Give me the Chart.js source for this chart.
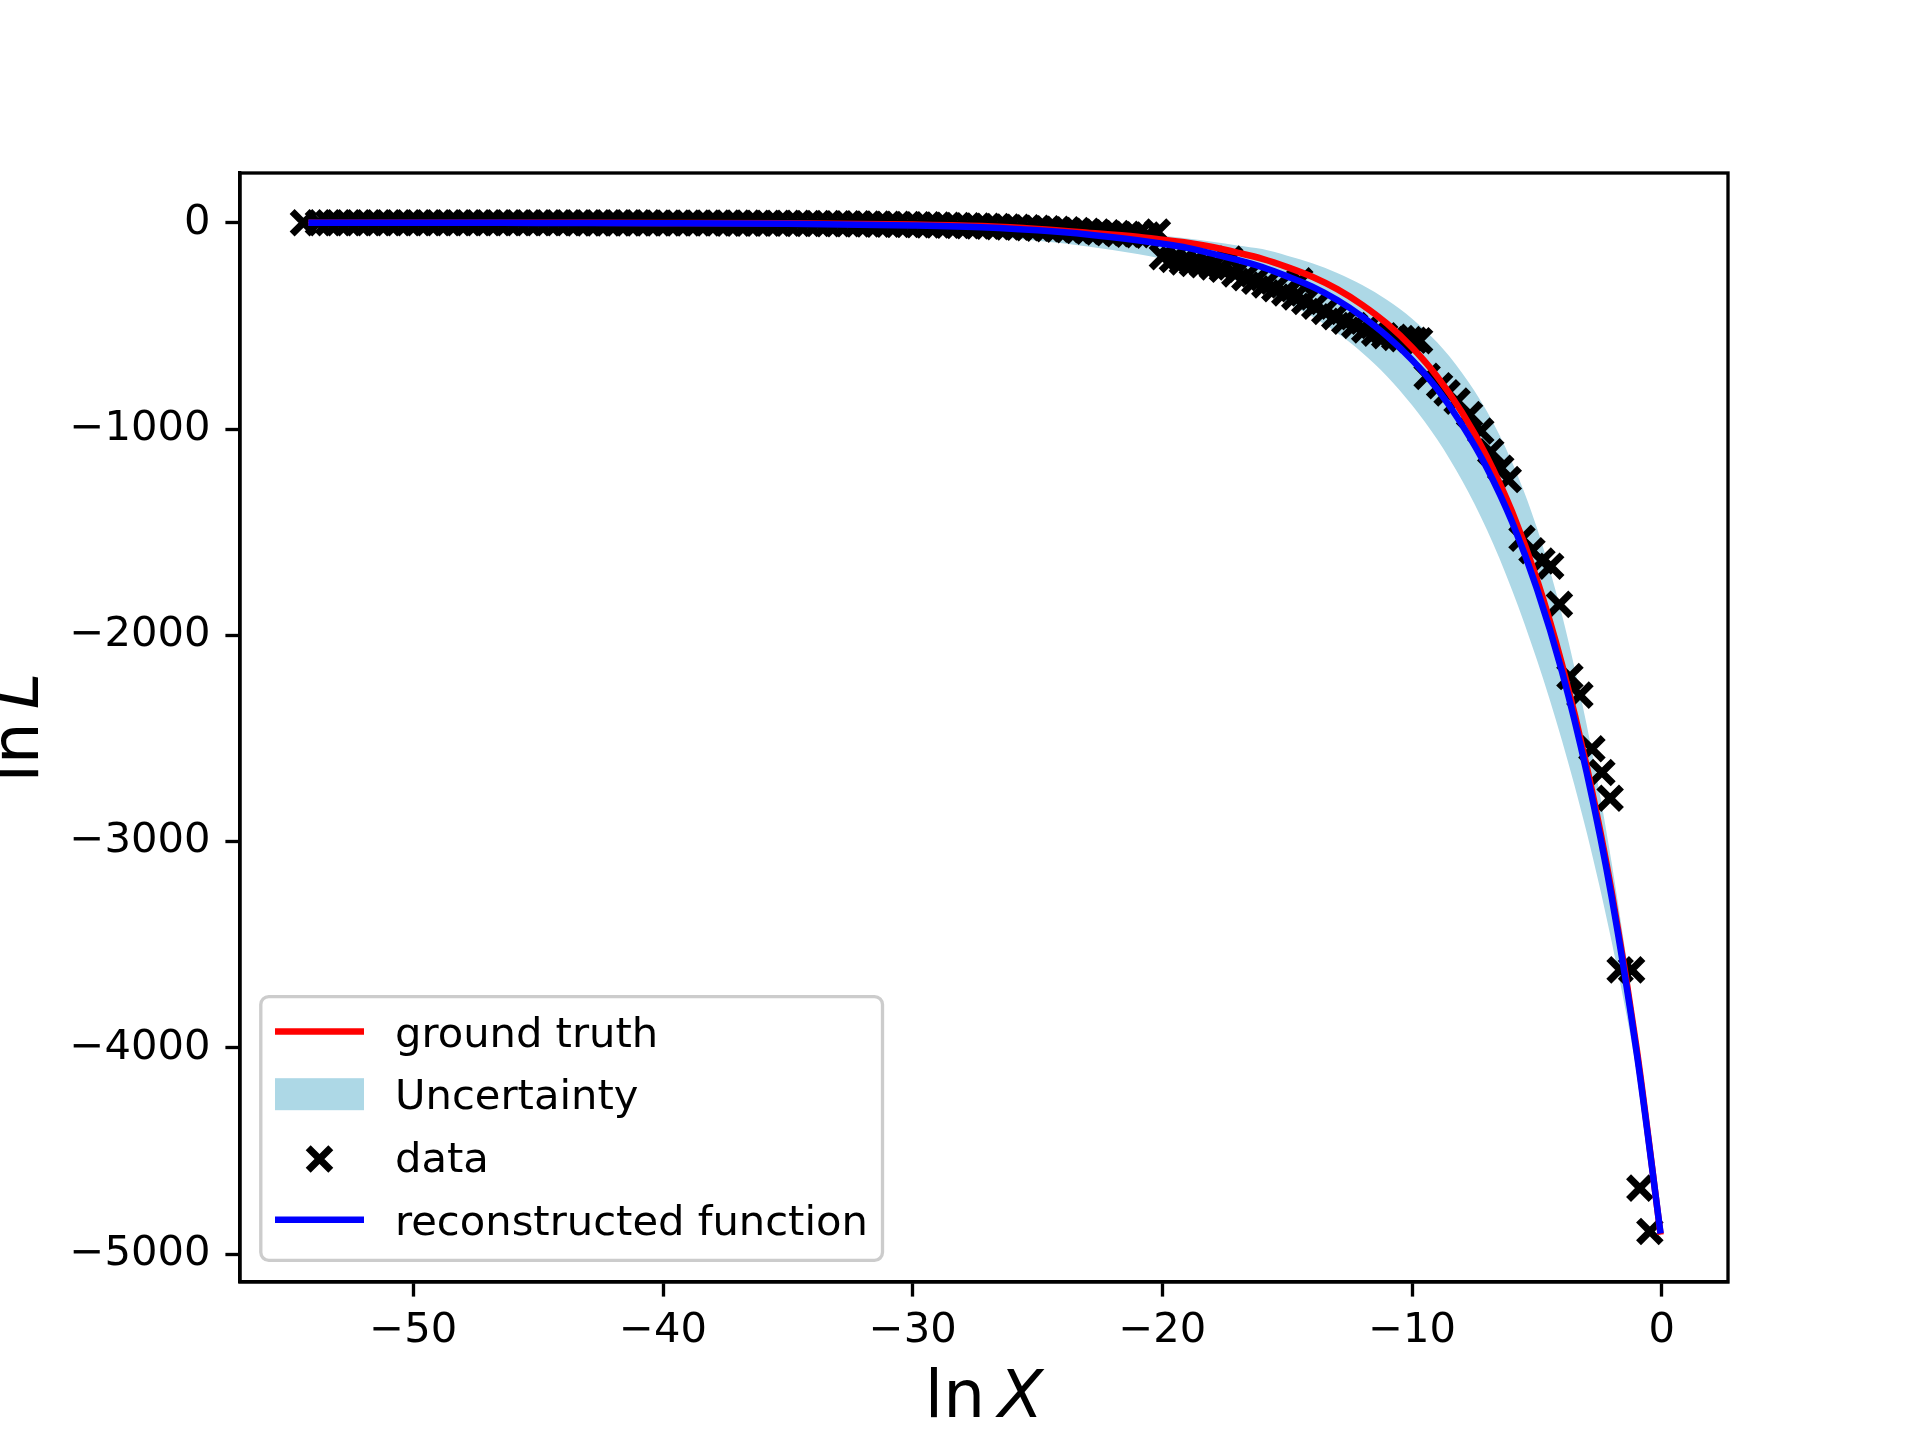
<!DOCTYPE html>
<html><head><meta charset="utf-8">
<script src="https://cdn.jsdelivr.net/npm/chart.js@4/dist/chart.umd.min.js"></script>
<style>html,body{margin:0;padding:0;background:#fff}</style>
</head><body>
<canvas id="c" width="1920" height="1440" style="width:1920px;height:1440px;display:block"></canvas>
<script>
// ---- data ----
const curveX = [-54.2, -50, -45, -40, -35, -30, -27, -25, -23, -21, -20, -19, -18, -17, -16, -15, -14, -13, -12, -11, -10, -9, -8, -7, -6, -5, -4, -3, -2, -1, -0.05];
const truthY = [0, -0.1, -0.4, -1, -3, -9, -17, -30, -48, -68, -82, -97, -118, -145, -175, -215, -262, -322, -398, -490, -605, -745, -920, -1135, -1400, -1730, -2140, -2640, -3250, -4010, -4905];
const reconY = [0, -0.3, -1, -2, -5, -13, -23, -37, -57, -85, -102, -122, -150, -180, -215, -260, -310, -375, -455, -550, -665, -805, -980, -1190, -1450, -1775, -2175, -2670, -3275, -4030, -4900];
const bandUpperY = [0, 0, -0.1, -0.3, -1, -3.5, -8, -15, -27, -52, -63, -76, -92, -110, -128, -160, -197, -244, -302, -375, -465, -580, -728, -915, -1160, -1480, -1900, -2440, -3110, -3935, -4885];
const bandLowerY = [0, -1, -3, -6, -16, -40, -65, -88, -115, -152, -175, -205, -240, -280, -330, -388, -455, -535, -630, -745, -885, -1050, -1250, -1490, -1780, -2120, -2510, -2960, -3490, -4120, -4925];

const dataX = [-54.4,
 -53.8, -53.4, -53.0, -52.6, -52.2, -51.8, -51.4, -51.0, -50.6, -50.2,
 -49.8, -49.4, -49.0, -48.6, -48.2, -47.8, -47.4, -47.0, -46.6, -46.2,
 -45.8, -45.4, -45.0, -44.6, -44.2, -43.8, -43.4, -43.0, -42.6, -42.2,
 -41.8, -41.4, -41.0, -40.6, -40.2, -39.8, -39.4, -39.0, -38.6, -38.2,
 -37.8, -37.4, -37.0, -36.6, -36.2, -35.8, -35.4, -35.0, -34.6, -34.2,
 -33.8, -33.4, -33.0, -32.6, -32.2, -31.8, -31.4, -31.0, -30.6, -30.2,
 -29.8, -29.4, -29.0, -28.6, -28.2, -27.8, -27.4, -27.0, -26.6, -26.2,
 -25.8, -25.4, -25.0, -24.6, -24.2, -23.8, -23.4, -23.0, -22.6, -22.2,
 -21.8, -21.4, -21.0, -20.6, -20.2,
 -20.0, -19.6, -19.2, -18.8, -18.4, -18.0, -17.6, -17.3, -17.1, -16.7,
 -16.3, -15.9, -15.5, -15.1, -14.7, -14.5, -14.3, -13.9, -13.5, -13.1,
 -12.7, -12.3, -11.9, -11.5, -11.1, -10.7, -10.4, -10.1, -9.9, -9.7,
 -9.4, -8.9, -8.6, -8.2, -7.7, -7.25, -6.85, -6.45, -6.15, -5.6,
 -5.2, -4.8, -4.45, -4.1, -3.68, -3.28, -2.8, -2.4, -2.07, -1.67,
 -1.21, -0.88, -0.48];
const dataY = [0,
 0, 0, 0, 0, 0, 0, 0, 0, 0, 0,
 0, 0, 0, 0, 0, 0, 0, -0.1, -0.2, -0.2,
 -0.3, -0.4, -0.4, -0.4, -0.5, -0.5, -0.6, -0.6, -0.6, -0.7,
 -0.7, -0.8, -0.9, -0.9, -1.0, -1.1, -1.2, -1.3, -1.4, -1.5,
 -1.6, -1.8, -1.9, -2.1, -2.3, -2.5, -2.7, -3.0, -3.3, -3.6,
 -3.9, -4.3, -4.7, -5.1, -5.6, -6.1, -6.7, -7.3, -8.0, -8.7,
 -9.5, -10.4, -11.3, -12.3, -13.4, -14.6, -15.9, -17.3, -18.9, -20.6,
 -22.4, -24.4, -26.6, -29, -31.6, -34.5, -37.6, -41, -44.7, -48.7,
 -53, -56, -58, -60, -45,
 -165, -178, -190, -198, -204, -214, -226, -176, -248, -266,
 -284, -302, -320, -340, -360, -282, -382, -405, -430, -456,
 -478, -498, -520, -536, -548, -556, -562, -566, -570, -572,
 -745, -790, -825, -865, -930, -1010, -1110, -1190, -1245, -1530,
 -1590, -1640, -1665, -1850, -2200, -2290, -2550, -2665, -2790, -3622,
 -3622, -4680, -4890];

const xTicks = [-50, -40, -30, -20, -10, 0];
const yTicks = [0, -1000, -2000, -3000, -4000, -5000];
const legendLabels = ['ground truth', 'Uncertainty', 'data', 'reconstructed function'];

// ---- helpers ----
const pts = (xs, ys) => xs.map((x, i) => ({x: x, y: ys[i]}));
const fmt = v => (v < 0 ? '\u2212' + Math.abs(v) : String(v));
const FONT = '"DejaVu Sans", sans-serif';
const LW = 3.33;       // 0.8pt at 300 dpi
const TICK = 14.6;     // 3.5pt
const CA = {left: 240, right: 1728, top: 173, bottom: 1282};

const framePlugin = {
  id: 'frame',
  afterDraw(chart) {
    const ctx = chart.ctx, a = chart.chartArea;
    ctx.save();
    ctx.strokeStyle = '#000';
    ctx.lineWidth = LW;
    ctx.strokeRect(a.left, a.top, a.right - a.left, a.bottom - a.top);
    // legend
    const fx = 260.8, fy = 996.6, fw = 882.5 - 260.8, fh = 1260.3 - 996.6, r = 8;
    ctx.beginPath();
    ctx.moveTo(fx + r, fy);
    ctx.arcTo(fx + fw, fy, fx + fw, fy + fh, r);
    ctx.arcTo(fx + fw, fy + fh, fx, fy + fh, r);
    ctx.arcTo(fx, fy + fh, fx, fy, r);
    ctx.arcTo(fx, fy, fx + fw, fy, r);
    ctx.closePath();
    ctx.fillStyle = 'rgba(255,255,255,0.8)';
    ctx.fill();
    ctx.strokeStyle = '#cccccc';
    ctx.lineWidth = LW;
    ctx.stroke();
    const hx0 = 275, hx1 = 364, tx = 395;
    const base = [1046.5, 1109.2, 1172, 1234.7];
    const cen = [1031.5, 1094.2, 1159, 1219.7];
    // ground truth
    ctx.strokeStyle = '#ff0000'; ctx.lineWidth = 6.5;
    ctx.beginPath(); ctx.moveTo(hx0, cen[0]); ctx.lineTo(hx1, cen[0]); ctx.stroke();
    // uncertainty
    ctx.fillStyle = '#add8e6';
    ctx.fillRect(hx0, cen[1] - 16, hx1 - hx0, 32);
    // data marker
    const mx = (hx0 + hx1) / 2, d = 11.3;
    ctx.strokeStyle = '#000'; ctx.lineWidth = 7;
    ctx.beginPath();
    ctx.moveTo(mx - d, cen[2] - d); ctx.lineTo(mx + d, cen[2] + d);
    ctx.moveTo(mx - d, cen[2] + d); ctx.lineTo(mx + d, cen[2] - d);
    ctx.stroke();
    // reconstructed
    ctx.strokeStyle = '#0000ff'; ctx.lineWidth = 6.5;
    ctx.beginPath(); ctx.moveTo(hx0, cen[3]); ctx.lineTo(hx1, cen[3]); ctx.stroke();
    ctx.fillStyle = '#000';
    ctx.font = '41.67px ' + FONT;
    ctx.textBaseline = 'alphabetic';
    ctx.textAlign = 'left';
    legendLabels.forEach((t, i) => ctx.fillText(t, tx, base[i]));
    // axis labels (mathtext style: upright "ln", italic variable)
    const drawLabel = (v, cx, by) => {
      ctx.font = '66px ' + FONT;
      const w1 = ctx.measureText('ln').width;
      ctx.font = 'italic 66px ' + FONT;
      const w2 = ctx.measureText(v).width;
      const gap = 13;
      const x0 = cx - (w1 + gap + w2) / 2;
      ctx.font = '66px ' + FONT;
      ctx.fillText('ln', x0, by);
      ctx.font = 'italic 66px ' + FONT;
      ctx.fillText(v, x0 + w1 + gap, by);
    };
    drawLabel('X', (a.left + a.right) / 2, 1417);
    ctx.save();
    ctx.translate(38, (a.top + a.bottom) / 2);
    ctx.rotate(-Math.PI / 2);
    drawLabel('L', 0, 0);
    ctx.restore();
    ctx.restore();
  }
};

const axisCommon = {
  grid: {display: true, drawOnChartArea: false, drawTicks: true, tickLength: TICK, tickWidth: LW, tickColor: '#000'},
  border: {display: true, color: '#000', width: LW},
  title: {display: false}
};

new Chart(document.getElementById('c'), {
  type: 'line',
  data: {
    datasets: [
      {label: legendLabels[3], data: pts(curveX, reconY), borderColor: '#0000ff', borderWidth: 6.5,
       pointRadius: 0, cubicInterpolationMode: 'monotone', fill: false},
      {label: legendLabels[0], data: pts(curveX, truthY), borderColor: '#ff0000', borderWidth: 6.5,
       pointRadius: 0, cubicInterpolationMode: 'monotone', fill: false},
      {label: legendLabels[2], data: pts(dataX, dataY), showLine: false, pointStyle: 'crossRot',
       pointRadius: 16, pointBorderWidth: 7, pointBorderColor: '#000', pointBackgroundColor: '#000', borderColor: '#000'},
      {label: legendLabels[1], data: pts(curveX, bandUpperY), borderWidth: 0, borderColor: 'rgba(0,0,0,0)',
       pointRadius: 0, cubicInterpolationMode: 'monotone', fill: '+1', backgroundColor: '#add8e6'},
      {label: 'lower', data: pts(curveX, bandLowerY), borderWidth: 0, borderColor: 'rgba(0,0,0,0)',
       pointRadius: 0, cubicInterpolationMode: 'monotone', fill: false}
    ]
  },
  options: {
    responsive: false,
    devicePixelRatio: 1,
    animation: false,
    events: [],
    layout: {padding: {left: 0, top: CA.top, right: 1920 - CA.right, bottom: 0}},
    plugins: {legend: {display: false}, tooltip: {enabled: false}},
    scales: {
      x: Object.assign({}, axisCommon, {
        type: 'linear', min: -56.94, max: 2.65,
        afterBuildTicks: s => { s.ticks = xTicks.map(v => ({value: v})); },
        afterFit: s => { s.height = 1440 - CA.bottom; },
        ticks: {font: {family: FONT, size: 41.67}, color: '#000', padding: 10, maxRotation: 0, autoSkip: false,
                callback: v => fmt(v)}
      }),
      y: Object.assign({}, axisCommon, {
        type: 'linear', min: -5135, max: 241,
        afterBuildTicks: s => { s.ticks = yTicks.map(v => ({value: v})); },
        afterFit: s => { s.width = CA.left; },
        ticks: {font: {family: FONT, size: 41.67}, color: '#000', padding: 15, autoSkip: false,
                callback: v => fmt(v)}
      })
    }
  },
  plugins: [framePlugin]
});
</script>
</body></html>
